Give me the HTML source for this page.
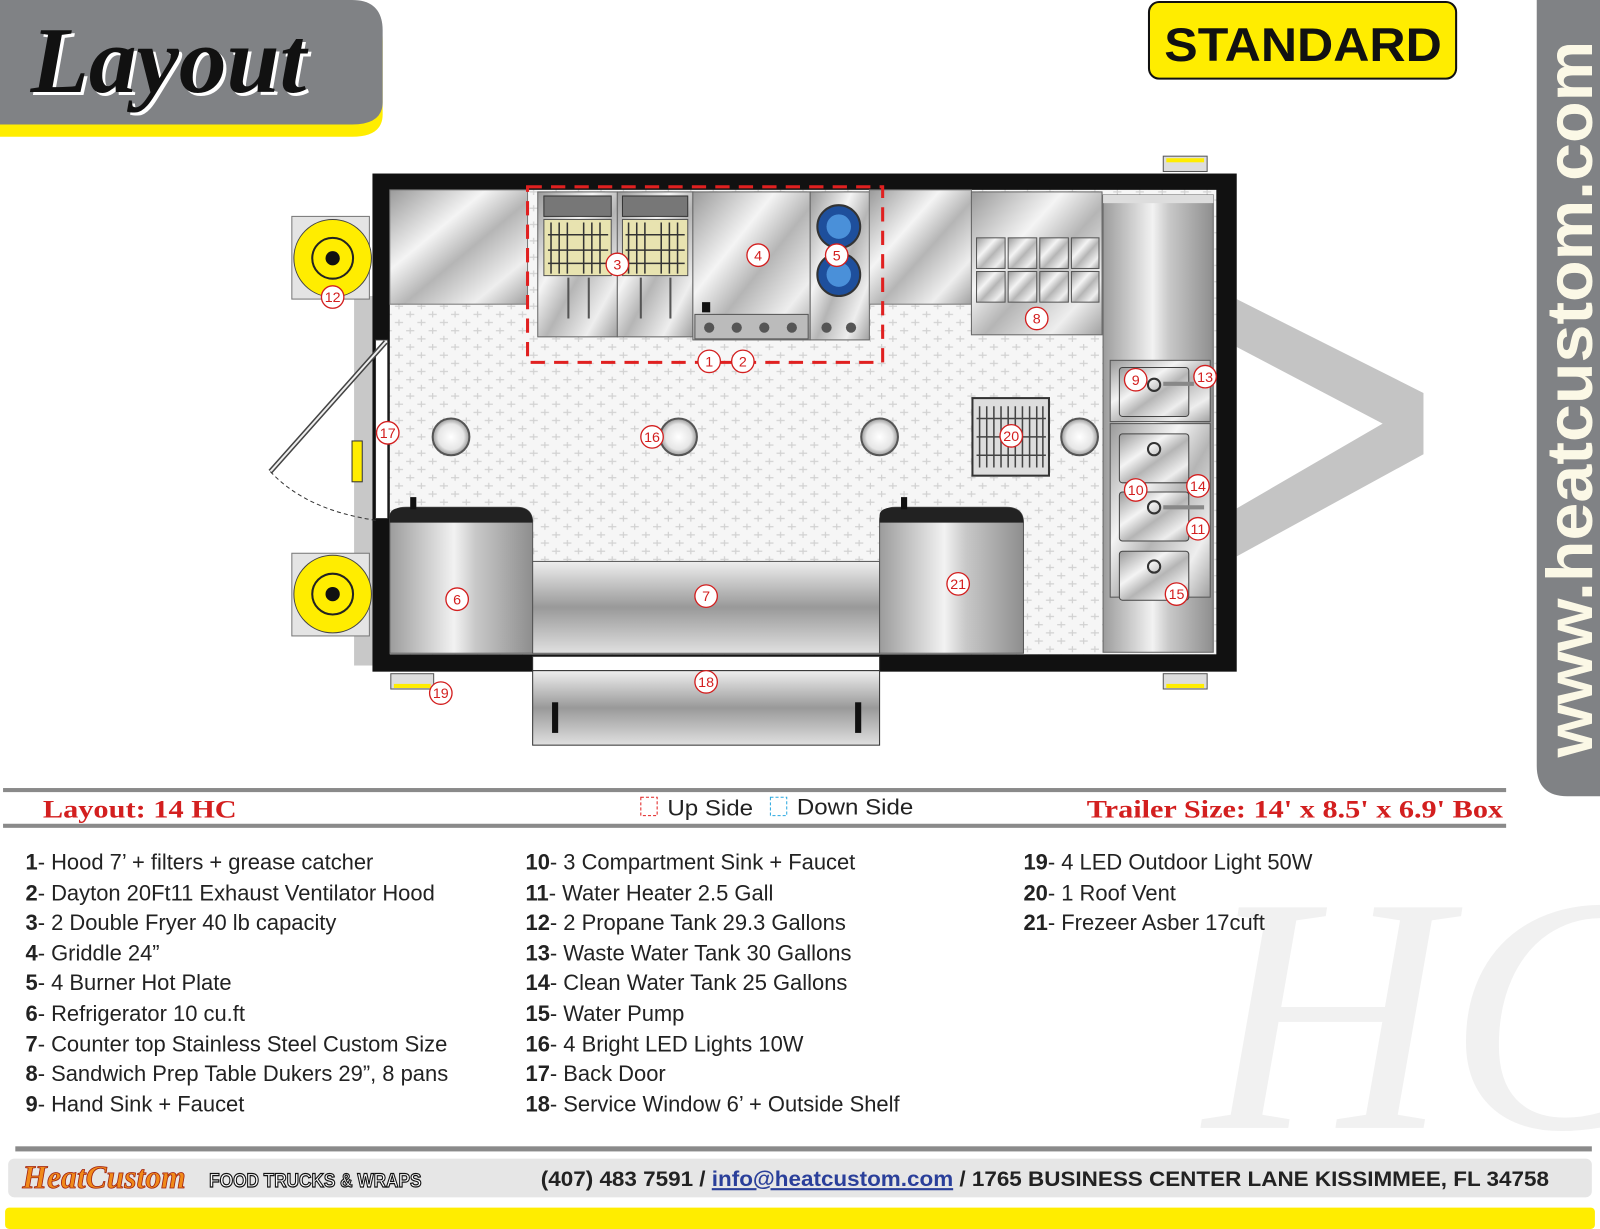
<!DOCTYPE html>
<html><head><meta charset="utf-8"><style>
html,body{margin:0;padding:0;background:#fff;}
svg{display:block;}
</style></head><body>
<svg width="1600" height="1229" viewBox="0 0 1568 1204" preserveAspectRatio="none" xmlns="http://www.w3.org/2000/svg" font-family="Liberation Sans, sans-serif">
<defs>
<linearGradient id="ss" x1="0" y1="0" x2="1" y2="1">
<stop offset="0" stop-color="#9a9a9a"/><stop offset="0.35" stop-color="#f4f4f4"/><stop offset="0.55" stop-color="#b5b5b5"/><stop offset="0.8" stop-color="#eeeeee"/><stop offset="1" stop-color="#a0a0a0"/></linearGradient>
<linearGradient id="sv" x1="0" y1="0" x2="1" y2="0">
<stop offset="0" stop-color="#9c9c9c"/><stop offset="0.45" stop-color="#f2f2f2"/><stop offset="0.6" stop-color="#c8c8c8"/><stop offset="1" stop-color="#8e8e8e"/></linearGradient>
<linearGradient id="sh" x1="0" y1="0" x2="0" y2="1">
<stop offset="0" stop-color="#eeeeee"/><stop offset="0.5" stop-color="#999"/><stop offset="1" stop-color="#e0e0e0"/></linearGradient>
<pattern id="tread" width="22" height="16" patternUnits="userSpaceOnUse">
<rect width="22" height="16" fill="#f6f6f6"/>
<path d="M2 4h8M13 12h8M6 1v6M17 9v6" stroke="#d2d2d2" stroke-width="1.2"/>
</pattern>
<radialGradient id="lamp"><stop offset="0" stop-color="#fff"/><stop offset="0.7" stop-color="#e6e6e6"/><stop offset="1" stop-color="#999"/></radialGradient>
<clipPath id="wm"><rect x="1150" y="815" width="418" height="305"/></clipPath>
</defs>

<!-- header badge -->
<path d="M0 10 H355 Q375 10 375 40 V112 Q375 134 345 134 H0Z" fill="#ffed00"/>
<path d="M0 0 H345 Q375 0 375 30 V100 Q375 122 345 122 H0Z" fill="#808285"/>
<text x="30" y="90" font-family="Liberation Serif, serif" font-style="italic" font-weight="bold" font-size="92" fill="#fff" transform="translate(3,3)" textLength="270" lengthAdjust="spacingAndGlyphs">Layout</text>
<text x="30" y="90" font-family="Liberation Serif, serif" font-style="italic" font-weight="bold" font-size="92" fill="#111" textLength="270" lengthAdjust="spacingAndGlyphs">Layout</text>

<!-- STANDARD -->
<rect x="1126" y="2" width="301" height="75" rx="10" fill="#ffed00" stroke="#111" stroke-width="2"/>
<text x="1277" y="60" text-anchor="middle" font-weight="bold" font-size="46" fill="#111" textLength="272" lengthAdjust="spacingAndGlyphs">STANDARD</text>

<!-- vertical bar -->
<path d="M1506 0 H1568 V780 H1536 Q1506 780 1506 750Z" fill="#808285"/>
<text transform="translate(1560,742) rotate(-90)" font-weight="bold" font-size="64" fill="#fbf8e6" textLength="702" lengthAdjust="spacingAndGlyphs">www.heatcustom.com</text>

<!-- HC watermark -->
<g clip-path="url(#wm)"><text x="1180" y="1105" font-family="Liberation Serif, serif" font-style="italic" font-size="330" fill="#f1f1f1">HC</text></g>

<!-- V tongue -->
<path d="M1212 293 L1395 385 L1395 445 L1212 545 L1212 498 L1355 415 L1212 340Z" fill="#c4c4c4"/>

<!-- left strip -->
<rect x="347" y="290" width="18" height="362" fill="#c8c8c8"/>
<!-- propane -->
<rect x="286" y="212" width="76" height="81" fill="#e4e4e4" stroke="#777"/>
<circle cx="326" cy="253" r="38" fill="#ffed00" stroke="#444"/>
<circle cx="326" cy="253" r="20" fill="none" stroke="#222" stroke-width="2"/>
<circle cx="326" cy="253" r="7" fill="#111"/>
<rect x="286" y="542" width="76" height="81" fill="#e4e4e4" stroke="#777"/>
<circle cx="326" cy="582" r="38" fill="#ffed00" stroke="#444"/>
<circle cx="326" cy="582" r="20" fill="none" stroke="#222" stroke-width="2"/>
<circle cx="326" cy="582" r="7" fill="#111"/>

<!-- trailer -->
<rect x="365" y="170" width="847" height="488" fill="#111"/>
<rect x="382" y="186" width="810" height="455" fill="url(#tread)"/>

<!-- top counters -->
<rect x="382" y="186" width="135" height="112" fill="url(#ss)" stroke="#777"/>
<rect x="527" y="188" width="78" height="142" fill="url(#ss)" stroke="#666"/>
<rect x="533" y="192" width="66" height="20" fill="#777" stroke="#333"/>
<rect x="533" y="215" width="66" height="55" fill="#e8e3b0" stroke="#555"/>
<path d="M540 218v50M548 218v50M556 218v50M572 218v50M580 218v50M588 218v50M537 230h59M537 245h59M537 258h59" stroke="#333" stroke-width="1.5"/>
<path d="M557 272v40M577 272v40" stroke="#555" stroke-width="2"/>
<rect x="605" y="188" width="74" height="142" fill="url(#ss)" stroke="#666"/>
<rect x="610" y="192" width="64" height="20" fill="#777" stroke="#333"/>
<rect x="610" y="215" width="64" height="55" fill="#e8e3b0" stroke="#555"/>
<path d="M616 218v50M624 218v50M632 218v50M648 218v50M656 218v50M664 218v50M613 230h58M613 245h58M613 258h58" stroke="#333" stroke-width="1.5"/>
<path d="M628 272v40M657 272v40" stroke="#555" stroke-width="2"/>
<rect x="679" y="188" width="115" height="145" fill="url(#ss)" stroke="#666"/>
<rect x="681" y="308" width="111" height="24" fill="#bbb" stroke="#555"/>
<rect x="688" y="296" width="8" height="10" fill="#111"/>
<g fill="#555"><circle cx="695" cy="321" r="5"/><circle cx="722" cy="321" r="5"/><circle cx="749" cy="321" r="5"/><circle cx="776" cy="321" r="5"/></g>
<rect x="794" y="188" width="58" height="145" fill="url(#ss)" stroke="#666"/>
<circle cx="822" cy="222" r="21" fill="#1e4f9c" stroke="#333" stroke-width="2"/><circle cx="822" cy="222" r="12" fill="#4a90d9"/>
<circle cx="822" cy="269" r="21" fill="#1e4f9c" stroke="#333" stroke-width="2"/><circle cx="822" cy="269" r="12" fill="#4a90d9"/>
<g fill="#555"><circle cx="810" cy="321" r="5"/><circle cx="834" cy="321" r="5"/></g>
<rect x="852" y="186" width="100" height="112" fill="url(#ss)" stroke="#777"/>
<rect x="952" y="188" width="128" height="140" fill="url(#ss)" stroke="#666"/>
<g fill="url(#ss)" stroke="#555">
<rect x="957" y="233" width="28" height="30"/><rect x="988" y="233" width="28" height="30"/><rect x="1019" y="233" width="28" height="30"/><rect x="1050" y="233" width="27" height="30"/>
<rect x="957" y="266" width="28" height="30"/><rect x="988" y="266" width="28" height="30"/><rect x="1019" y="266" width="28" height="30"/><rect x="1050" y="266" width="27" height="30"/></g>

<!-- right column -->
<rect x="1081" y="191" width="108" height="448" fill="url(#sv)" stroke="#666"/>
<rect x="1081" y="191" width="108" height="8" fill="#ddd"/>
<rect x="1088" y="353" width="98" height="60" fill="url(#ss)" stroke="#555"/>
<rect x="1097" y="360" width="68" height="48" rx="3" fill="url(#ss)" stroke="#444"/>
<rect x="1088" y="415" width="98" height="170" fill="url(#ss)" stroke="#555"/>
<rect x="1097" y="425" width="68" height="48" rx="3" fill="url(#ss)" stroke="#444"/>
<rect x="1097" y="482" width="68" height="48" rx="3" fill="url(#ss)" stroke="#444"/>
<rect x="1097" y="540" width="68" height="48" rx="3" fill="url(#ss)" stroke="#444"/>
<g fill="none" stroke="#333" stroke-width="2"><circle cx="1131" cy="377" r="6"/><circle cx="1131" cy="440" r="6"/><circle cx="1131" cy="497" r="6"/><circle cx="1131" cy="555" r="6"/></g>
<path d="M1140 376h30M1140 497h40" stroke="#888" stroke-width="4"/>

<!-- red dashed hood -->
<rect x="517" y="183" width="348" height="172" fill="none" stroke="#e02020" stroke-width="3" stroke-dasharray="14,9"/>

<!-- lights -->
<g stroke="#555" stroke-width="2" fill="url(#lamp)"><circle cx="442" cy="428" r="18"/><circle cx="665" cy="428" r="18"/><circle cx="862" cy="428" r="18"/><circle cx="1058" cy="428" r="18"/></g>
<!-- roof vent -->
<rect x="953" y="390" width="75" height="76" fill="#ddd" stroke="#333" stroke-width="2"/>
<path d="M960 398v60M967 398v60M974 398v60M981 398v60M988 398v60M995 398v60M1002 398v60M1009 398v60M1016 398v60M1022 398v60M957 410h68M957 428h68M957 446h68" stroke="#444" stroke-width="1.5"/>

<!-- door -->
<rect x="368" y="333" width="12" height="175" fill="#fff" stroke="#333"/>
<line x1="378" y1="335" x2="265" y2="462" stroke="#444" stroke-width="5"/>
<line x1="378" y1="335" x2="265" y2="462" stroke="#eee" stroke-width="2"/>
<path d="M265 462 Q300 500 370 510" fill="none" stroke="#333" stroke-dasharray="4,3"/>
<rect x="345" y="432" width="10" height="40" fill="#ffed00" stroke="#333"/>

<!-- bottom equipment -->
<path d="M382 640 V510 Q382 497 398 497 H506 Q522 497 522 512 V640Z" fill="url(#sv)" stroke="#555"/>
<path d="M382 505 Q382 497 398 497 H506 Q522 497 522 512 H382Z" fill="#222"/>
<rect x="402" y="487" width="6" height="12" fill="#111"/>
<rect x="522" y="550" width="340" height="90" fill="url(#sh)" stroke="#555"/>
<path d="M862 640 V510 Q862 497 878 497 H986 Q1003 497 1003 512 V640Z" fill="url(#sv)" stroke="#555"/>
<path d="M862 505 Q862 497 878 497 H986 Q1003 497 1003 512 H862Z" fill="#222"/>
<rect x="883" y="487" width="6" height="12" fill="#111"/>
<!-- service window -->
<rect x="522" y="643" width="340" height="14" fill="#fff" stroke="#333"/>
<rect x="522" y="657" width="340" height="73" fill="url(#sh)" stroke="#333"/>
<rect x="541" y="688" width="6" height="30" fill="#111"/><rect x="838" y="688" width="6" height="30" fill="#111"/>
<!-- outdoor lights -->
<rect x="383" y="660" width="42" height="15" fill="#ddd" stroke="#555"/><rect x="386" y="670" width="36" height="4" fill="#ffed00"/>
<rect x="1140" y="153" width="43" height="15" fill="#ddd" stroke="#555"/><rect x="1143" y="155" width="37" height="4" fill="#ffed00"/>
<rect x="1140" y="660" width="43" height="15" fill="#ddd" stroke="#555"/><rect x="1143" y="670" width="37" height="4" fill="#ffed00"/>

<!-- number labels -->
<g font-size="14" fill="#d31f1f" text-anchor="middle">
<g fill="#fff" stroke="#d31f1f" stroke-width="1.3">
<circle cx="605" cy="259" r="11"/><circle cx="743" cy="250" r="11"/><circle cx="820" cy="250" r="11"/><circle cx="1016" cy="312" r="11"/>
<circle cx="695" cy="354" r="11"/><circle cx="728" cy="354" r="11"/><circle cx="326" cy="291" r="11"/><circle cx="380" cy="424" r="11"/>
<circle cx="639" cy="428" r="11"/><circle cx="991" cy="427" r="11"/><circle cx="1113" cy="372" r="11"/><circle cx="1181" cy="369" r="11"/>
<circle cx="1113" cy="480" r="11"/><circle cx="1174" cy="476" r="11"/><circle cx="1174" cy="518" r="11"/><circle cx="1153" cy="582" r="11"/>
<circle cx="448" cy="587" r="11"/><circle cx="692" cy="584" r="11"/><circle cx="939" cy="572" r="11"/><circle cx="692" cy="668" r="11"/><circle cx="432" cy="679" r="11"/></g>
<text x="605" y="264">3</text><text x="743" y="255">4</text><text x="820" y="255">5</text><text x="1016" y="317">8</text>
<text x="695" y="359">1</text><text x="728" y="359">2</text><text x="326" y="296">12</text><text x="380" y="429">17</text>
<text x="639" y="433">16</text><text x="991" y="432">20</text><text x="1113" y="377">9</text><text x="1181" y="374">13</text>
<text x="1113" y="485">10</text><text x="1174" y="481">14</text><text x="1174" y="523">11</text><text x="1153" y="587">15</text>
<text x="448" y="592">6</text><text x="692" y="589">7</text><text x="939" y="577">21</text><text x="692" y="673">18</text><text x="432" y="684">19</text>
</g>

<!-- divider -->
<rect x="3" y="772" width="1473" height="4" fill="#8a8a8a"/>
<rect x="3" y="807" width="1473" height="4" fill="#8a8a8a"/>
<text x="42" y="801" font-family="Liberation Serif, serif" font-weight="bold" font-size="25" fill="#d31f1f" textLength="190" lengthAdjust="spacingAndGlyphs">Layout: 14 HC</text>
<text x="1065" y="801" font-family="Liberation Serif, serif" font-weight="bold" font-size="25" fill="#d31f1f" textLength="408" lengthAdjust="spacingAndGlyphs">Trailer Size: 14' x 8.5' x 6.9' Box</text>
<rect x="628" y="781" width="16" height="18" fill="none" stroke="#e02020" stroke-dasharray="3,2"/>
<text x="654" y="799" font-size="22" fill="#222" textLength="84" lengthAdjust="spacingAndGlyphs">Up Side</text>
<rect x="755" y="781" width="16" height="18" fill="none" stroke="#29a8e0" stroke-dasharray="3,2"/>
<text x="781" y="798" font-size="22" fill="#222" textLength="114" lengthAdjust="spacingAndGlyphs">Down Side</text>

<!-- list -->
<g font-size="21.5" fill="#222">
<text x="25" y="852"><tspan font-weight="bold">1</tspan>- Hood 7’ + filters + grease catcher</text>
<text x="25" y="882"><tspan font-weight="bold">2</tspan>- Dayton 20Ft11 Exhaust Ventilator Hood</text>
<text x="25" y="911"><tspan font-weight="bold">3</tspan>- 2 Double Fryer 40 lb capacity</text>
<text x="25" y="941"><tspan font-weight="bold">4</tspan>- Griddle 24”</text>
<text x="25" y="970"><tspan font-weight="bold">5</tspan>- 4 Burner Hot Plate</text>
<text x="25" y="1000"><tspan font-weight="bold">6</tspan>- Refrigerator 10 cu.ft</text>
<text x="25" y="1030"><tspan font-weight="bold">7</tspan>- Counter top Stainless Steel Custom Size</text>
<text x="25" y="1059"><tspan font-weight="bold">8</tspan>- Sandwich Prep Table Dukers 29”, 8 pans</text>
<text x="25" y="1089"><tspan font-weight="bold">9</tspan>- Hand Sink + Faucet</text>
<text x="515" y="852"><tspan font-weight="bold">10</tspan>-  3 Compartment Sink + Faucet</text>
<text x="515" y="882"><tspan font-weight="bold">11</tspan>- Water Heater 2.5 Gall</text>
<text x="515" y="911"><tspan font-weight="bold">12</tspan>- 2 Propane Tank 29.3 Gallons</text>
<text x="515" y="941"><tspan font-weight="bold">13</tspan>- Waste Water Tank 30 Gallons</text>
<text x="515" y="970"><tspan font-weight="bold">14</tspan>- Clean Water Tank 25 Gallons</text>
<text x="515" y="1000"><tspan font-weight="bold">15</tspan>- Water Pump</text>
<text x="515" y="1030"><tspan font-weight="bold">16</tspan>- 4 Bright LED Lights 10W</text>
<text x="515" y="1059"><tspan font-weight="bold">17</tspan>- Back Door</text>
<text x="515" y="1089"><tspan font-weight="bold">18</tspan>- Service Window 6’ + Outside Shelf</text>
<text x="1003" y="852"><tspan font-weight="bold">19</tspan>- 4 LED Outdoor Light 50W</text>
<text x="1003" y="882"><tspan font-weight="bold">20</tspan>- 1 Roof Vent</text>
<text x="1003" y="911"><tspan font-weight="bold">21</tspan>- Frezeer Asber 17cuft</text>
</g>

<!-- footer -->
<rect x="15" y="1123" width="1545" height="5" fill="#8a8a8a"/>
<rect x="8" y="1135" width="1552" height="38" rx="6" fill="#e6e6e6"/>
<text x="22" y="1164" font-family="Liberation Serif, serif" font-style="italic" font-weight="bold" font-size="32" fill="#f08a1a" stroke="#a02010" stroke-width="0.8" textLength="160" lengthAdjust="spacingAndGlyphs">HeatCustom</text>
<text x="205" y="1163" font-weight="bold" font-size="19" fill="#fff" stroke="#111" stroke-width="1.2" textLength="208" lengthAdjust="spacingAndGlyphs">FOOD TRUCKS &amp; WRAPS</text>
<text x="530" y="1162" font-weight="bold" font-size="21" fill="#222" textLength="988" lengthAdjust="spacingAndGlyphs">(407) 483 7591 / <tspan fill="#2a3f9a" text-decoration="underline">info@heatcustom.com</tspan>  /  1765 BUSINESS CENTER LANE KISSIMMEE, FL 34758</text>
<rect x="5" y="1183" width="1558" height="21" rx="4" fill="#ffed00"/>
</svg>
</body></html>
